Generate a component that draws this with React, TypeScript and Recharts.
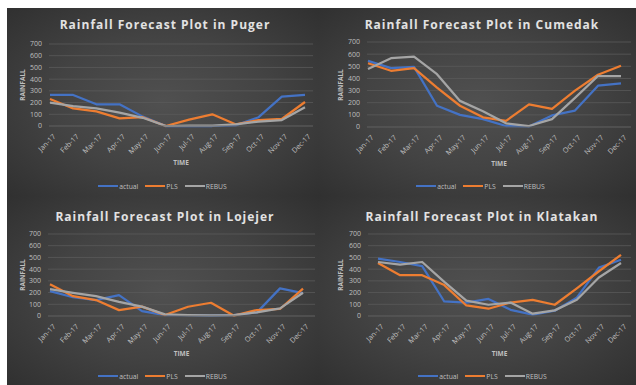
import { CartesianGrid, Line, LineChart, XAxis, YAxis } from "recharts";

const months = ["Jan-17", "Feb-17", "Mar-17", "Apr-17", "May-17", "Jun-17", "Jul-17", "Aug-17", "Sep-17", "Oct-17", "Nov-17", "Dec-17"];
const yTicks = [0, 100, 200, 300, 400, 500, 600, 700];

const pugerActual = [265, 265, 185, 185, 80, 0, 0, 0, 5, 75, 250, 265];
const pugerPLS = [230, 150, 125, 65, 75, 0, 55, 100, 15, 50, 60, 205];
const pugerREBUS = [200, 170, 150, 115, 70, 0, 3, 3, 14, 37, 51, 160];

const cumedakActual = [545, 485, 495, 175, 100, 65, 8, 5, 95, 135, 340, 360];
const cumedakPLS = [525, 463, 485, 325, 175, 80, 50, 187, 150, 300, 430, 505];
const cumedakREBUS = [478, 567, 580, 435, 215, 130, 30, 8, 65, 240, 420, 420];

const lojejerActual = [212, 160, 135, 178, 42, 8, 8, 3, 8, 31, 236, 195];
const lojejerPLS = [270, 169, 136, 50, 80, 8, 79, 113, 3, 51, 60, 234];
const lojejerREBUS = [229, 198, 169, 121, 80, 14, 8, 6, 8, 31, 65, 198];

const klatakanActual = [489, 461, 425, 124, 115, 146, 53, 11, 45, 157, 413, 480];
const klatakanPLS = [452, 348, 348, 264, 90, 62, 115, 138, 96, 236, 382, 522];
const klatakanREBUS = [461, 438, 461, 292, 132, 96, 115, 20, 48, 138, 329, 452];

const series = [
  { key: "actual", color: "#4472C4" },
  { key: "PLS", color: "#ED7D31" },
  { key: "REBUS", color: "#A5A5A5" },
];

const FONT = "'Open Sans', 'DejaVu Sans', sans-serif";
const TEXT = "#bfbfbf";
const GRID = "#5a5a5a";

const MonthTick = ({ x, y, payload }: any) => {
  const ax = x + 4;
  const ay = y + 7;
  return (
    <text
      x={ax}
      y={ay}
      transform={`rotate(-45 ${ax} ${ay})`}
      textAnchor="end"
      dominantBaseline="central"
      fontSize={7.2}
      fill={TEXT}
      fontFamily={FONT}
    >
      {payload.value}
    </text>
  );
};

function Panel({ title, actual, pls, rebus, box, lay }: any) {
  const data = months.map((m, i) => ({ month: m, actual: actual[i], PLS: pls[i], REBUS: rebus[i] }));
  const YW = 30;
  const XH = 30;
  return (
    <div
      style={{
        position: "absolute",
        left: box.x,
        top: box.y,
        width: box.w,
        height: box.h,
        background: "radial-gradient(ellipse at 50% 50%, #505050 0%, #434343 50%, #303030 100%)",
        fontFamily: FONT,
        overflow: "hidden",
      }}
    >
      <div
        style={{
          position: "absolute",
          left: lay.titleX - 150,
          width: 300,
          top: lay.titleY - 9,
          height: 18,
          lineHeight: "18px",
          textAlign: "center",
          color: "#e2e2e2",
          fontWeight: 700,
          fontSize: 12,
          letterSpacing: 1,
        }}
      >
        {title}
      </div>
      <div style={{ position: "absolute", left: 0, top: 0 }}>
        <LineChart
          width={box.w}
          height={box.h}
          data={data}
          margin={{ top: lay.top, left: lay.gridLeft - YW, right: box.w - lay.gridRight, bottom: box.h - lay.bottom - XH }}
        >
          <CartesianGrid vertical={false} stroke={GRID} strokeWidth={0.8} />
          <XAxis
            dataKey="month"
            height={XH}
            interval={0}
            tick={<MonthTick />}
            tickLine={false}
            tickSize={0}
            axisLine={{ stroke: GRID, strokeWidth: 0.8 }}
            padding={{ left: lay.firstX - lay.gridLeft, right: lay.gridRight - lay.lastX }}
          />
          <YAxis
            width={YW}
            domain={[0, 700]}
            ticks={yTicks}
            interval={0}
            axisLine={false}
            tickLine={false}
            tickSize={0}
            tickMargin={7}
            tick={{ fontSize: 7, fill: TEXT, fontFamily: FONT }}
          />
          {series.map((s) => (
            <Line
              key={s.key}
              type="linear"
              dataKey={s.key}
              stroke={s.color}
              strokeWidth={2.25}
              dot={false}
              strokeLinejoin="round"
              isAnimationActive={false}
            />
          ))}
        </LineChart>
      </div>
      <div
        style={{
          position: "absolute",
          left: lay.yLabelX - 40,
          top: (lay.top + lay.bottom) / 2 - 6,
          width: 80,
          height: 12,
          lineHeight: "12px",
          textAlign: "center",
          transform: "rotate(-90deg)",
          color: TEXT,
          fontSize: 6.5,
          fontWeight: 700,
        }}
      >
        RAINFALL
      </div>
      <div
        style={{
          position: "absolute",
          left: (lay.gridLeft + lay.gridRight) / 2 - 40,
          top: lay.timeY - 6,
          width: 80,
          height: 12,
          lineHeight: "12px",
          textAlign: "center",
          color: TEXT,
          fontSize: 6.5,
          fontWeight: 700,
        }}
      >
        TIME
      </div>
      <div
        style={{
          position: "absolute",
          left: lay.legendX - 100,
          width: 200,
          top: lay.legendY - 6,
          height: 12,
          display: "flex",
          justifyContent: "center",
          alignItems: "center",
          color: TEXT,
          fontSize: 6.8,
        }}
      >
        {series.map((s) => (
          <div key={s.key} style={{ display: "flex", alignItems: "center", marginRight: 7 }}>
            <div style={{ width: 20, height: 2.5, background: s.color, marginRight: 1 }} />
            <span>{s.key}</span>
          </div>
        ))}
      </div>
    </div>
  );
}

const leftTop = { gridLeft: 42, gridRight: 306, firstX: 43, lastX: 298, top: 36, bottom: 118, titleX: 158, titleY: 17, timeY: 155, legendY: 178, legendX: 159, yLabelX: 16 };
const rightTop = { gridLeft: 49, gridRight: 313, firstX: 50, lastX: 303, top: 34, bottom: 119, titleX: 164, titleY: 17, timeY: 156, legendY: 178, legendX: 166, yLabelX: 23 };
const leftBottom = { gridLeft: 41, gridRight: 308, firstX: 43, lastX: 296, top: 38, bottom: 120, titleX: 158, titleY: 21, timeY: 158, legendY: 180, legendX: 159, yLabelX: 16 };
const rightBottom = { gridLeft: 50, gridRight: 313, firstX: 60, lastX: 303, top: 38, bottom: 120, titleX: 164, titleY: 21, timeY: 158, legendY: 180, legendX: 168, yLabelX: 23 };

export default function App() {
  return (
    <div style={{ position: "absolute", left: 0, top: 0, width: 636, height: 385, background: "#ffffff", overflow: "hidden" }}>
      <Panel title="Rainfall Forecast Plot in Puger" actual={pugerActual} pls={pugerPLS} rebus={pugerREBUS} box={{ x: 7, y: 8, w: 311, h: 188 }} lay={leftTop} />
      <Panel title="Rainfall Forecast Plot in Cumedak" actual={cumedakActual} pls={cumedakPLS} rebus={cumedakREBUS} box={{ x: 318, y: 8, w: 318, h: 188 }} lay={rightTop} />
      <Panel title="Rainfall Forecast Plot in Lojejer" actual={lojejerActual} pls={lojejerPLS} rebus={lojejerREBUS} box={{ x: 7, y: 196, w: 311, h: 189 }} lay={leftBottom} />
      <Panel title="Rainfall Forecast Plot in Klatakan" actual={klatakanActual} pls={klatakanPLS} rebus={klatakanREBUS} box={{ x: 318, y: 196, w: 318, h: 189 }} lay={rightBottom} />
    </div>
  );
}
